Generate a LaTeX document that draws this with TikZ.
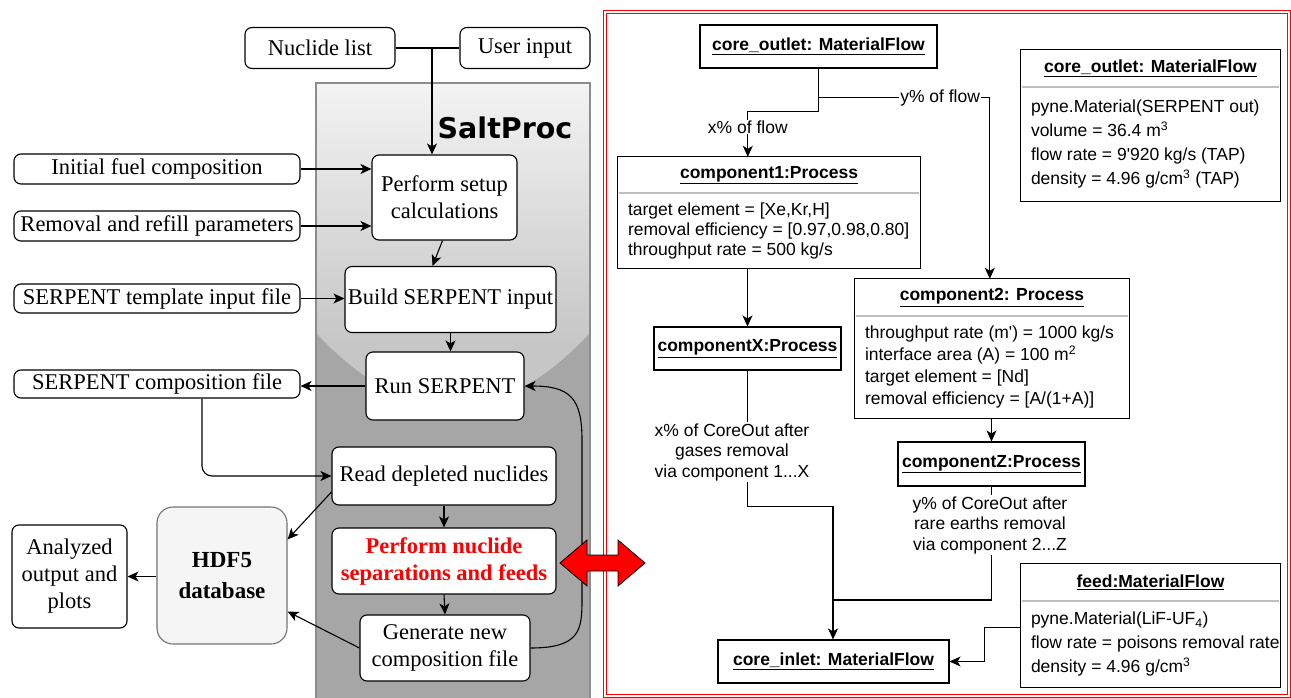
\documentclass[tikz,border=0pt]{standalone}
\usepackage{fontspec}
\setmainfont{Liberation Serif}
\newfontfamily\umlfont{Liberation Sans}
\newfontfamily\saltfont{DejaVu Sans}
\usetikzlibrary{arrows.meta}

\definecolor{paneltop}{RGB}{243,243,243}
\definecolor{panelmid}{RGB}{198,198,198}
\definecolor{paneldark}{RGB}{166,166,166}
\definecolor{panelline}{RGB}{140,140,140}
\definecolor{hdfgray}{RGB}{245,245,245}

\begin{document}
\begin{tikzpicture}[
    x=1pt, y=-1pt,
    >={Stealth[length=11pt, width=10pt, inset=3pt]},
    conn/.style={line width=1.1pt},
    inbox/.style={draw, line width=1.1pt, rounded corners=7pt, fill=white, align=center, inner sep=1pt, font=\fontsize{22.5}{27}\selectfont},
    dbbox/.style={inbox, draw=black!55, fill=hdfgray, rounded corners=16pt, font=\bfseries\fontsize{23}{31}\selectfont},
    umlhead/.style={inner sep=1pt, font=\umlfont\bfseries\fontsize{17.5}{21}\selectfont},
    umlbox/.style={umlhead, draw, line width=1.1pt, fill=white},
    umlbody/.style={anchor=north west, align=left, inner xsep=10pt, inner ysep=0pt, font=\umlfont\fontsize{17.5}{22}\selectfont},
    umlline/.style={draw, line width=1.1pt},
    sepline/.style={draw=black!25, line width=1.6pt},
    flowlbl/.style={fill=white, inner sep=1pt, align=center, font=\umlfont\fontsize{17.5}{20.5}\selectfont}
]
    \useasboundingbox (0,0) rectangle (1291,698);
    \clip (0,0) rectangle (1291,698);

    % SaltProc panel
    \shade[top color=paneltop, bottom color=panelmid] (316,83) rectangle (590,345);
    \fill[panelmid] (316,344) rectangle (590,420);
    \fill[paneldark] (316,333) .. controls (407,431) and (499,431) .. (590,333) -- (590,710) -- (316,710) -- cycle;
    \draw[panelline, line width=2pt] (316,83) rectangle (590,710);
    \node[font=\saltfont\bfseries\fontsize{28.5}{30}\selectfont] (saltproc) at (505,128) {SaltProc};

    % process frame
    \draw[red, double=white, line width=0.8pt, double distance=1.8pt] (605,12) rectangle (1289,696);

    % inputs
    \node[inbox, minimum width=150, minimum height=41] (nuclides) at (320,48) {Nuclide list};
    \node[inbox, minimum width=130, minimum height=41] (userinput) at (525,48) {User input};
    \node[inbox, minimum width=286, minimum height=30] (initfuel) at (157,169) {Initial fuel composition};
    \node[inbox, minimum width=286, minimum height=30] (refill) at (157,226) {Removal and refill parameters};
    \node[inbox, minimum width=286, minimum height=29] (template) at (157,298.5) {SERPENT template input file};
    \node[inbox, minimum width=286, minimum height=28] (compfile) at (157,384) {SERPENT composition file};

    % steps
    \node[inbox, minimum width=145, minimum height=85] (setup) at (444.5,197.5) {Perform setup\\calculations};
    \node[inbox, minimum width=211, minimum height=66] (build) at (450.5,299.5) {Build SERPENT input};
    \node[inbox, minimum width=158, minimum height=68] (run) at (445,386) {Run SERPENT};
    \node[inbox, minimum width=224, minimum height=58] (read) at (444,476) {Read depleted nuclides};
    \node[inbox, minimum width=224, minimum height=66, text=red, font=\bfseries\fontsize{22.5}{27}\selectfont] (separate) at (444,561) {Perform nuclide\\separations and feeds};
    \node[inbox, minimum width=170, minimum height=66] (generate) at (445,648) {Generate new\\composition file};

    % outputs
    \node[dbbox, minimum width=130, minimum height=137] (hdf) at (222,575.5) {HDF5\\database};
    \node[inbox, minimum width=115, minimum height=103] (analyzed) at (69.5,576.5) {Analyzed\\output and\\plots};

    \coordinate (junc) at (432,48);
    \draw[conn] (nuclides.east) -- (userinput.west);
    \draw[conn, ->] (junc) -- (junc |- setup.north);
    \draw[conn, ->] (initfuel.east) -- (initfuel.east -| setup.west);
    \draw[conn, ->] (refill.east) -- (refill.east -| setup.west);
    \draw[conn, ->] ([xshift=-2pt]setup.south) -- ([xshift=-18pt]build.north);
    \draw[conn, ->] (template.east) -- (template.east -| build.west);
    \draw[conn, ->] (build.south) -- (build.south |- run.north);
    \draw[conn, ->] (run.west) -- (run.west -| compfile.east);
    \draw[conn, ->, rounded corners=10pt] ([xshift=45pt]compfile.south) |- (read.west);
    \draw[conn, ->] (read.south) -- (separate.north);
    \draw[conn, ->] (separate.south) -- (generate.north);
    \draw[conn, ->] ([yshift=-16pt]read.west) -- ([yshift=-33pt]hdf.north east);
    \draw[conn, ->] (generate.west) -- ([yshift=-36pt]hdf.east);
    \draw[conn, ->] (analyzed.east -| hdf.west) -- (analyzed.east);
    \draw[conn, ->] (generate.east) .. controls (580,648) and (582,630) .. (582,600) -- (582,440) .. controls (582,398) and (570,386) .. (run.east);

    % link to the process model
    \draw[fill=red, line width=0.8pt] (560,563) -- (587,540) -- (587,555) -- (618,555) -- (618,540) -- (645,563) -- (618,586) -- (618,571) -- (587,571) -- (587,586) -- cycle;

    % process model
    \node[umlbox, minimum width=237, minimum height=43] (outlet) at (818.5,46.5) {\underline{core\_outlet: MaterialFlow}};
    \node[umlhead, minimum width=302, minimum height=36] (proc1) at (769,175) {\underline{component1:Process}};
    \node[umlbody, minimum height=75, font=\umlfont\fontsize{17.5}{20}\selectfont] (proc1-b) at (proc1.south west) {target element = [Xe,Kr,H]\\removal efficiency = [0.97,0.98,0.80]\\throughput rate = 500 kg/s};
    \node[umlhead, minimum width=259, minimum height=37] (state) at (1150.5,68.5) {\underline{core\_outlet: MaterialFlow}};
    \node[umlbody, minimum height=114, font=\umlfont\fontsize{17.5}{24}\selectfont] (state-b) at (state.south west) {pyne.Material(SERPENT out)\\volume = 36.4 m\textsuperscript{3}\\flow rate = 9\textquotesingle920 kg/s (TAP)\\density = 4.96 g/cm\textsuperscript{3} (TAP)};
    \node[umlhead, minimum width=274, minimum height=37] (proc2) at (992,297.5) {\underline{component2: Process}};
    \node[umlbody, minimum height=102] (proc2-b) at (proc2.south west) {throughput rate (m\textquotesingle) = 1000 kg/s\\interface area (A) = 100 m\textsuperscript{2}\\target element = [Nd]\\removal efficiency = [A/(1+A)]};
    \node[umlbox, minimum width=187, minimum height=43] (procX) at (747.5,348.5) {\underline{componentX:Process}};
    \node[umlbox, minimum width=187, minimum height=44] (procZ) at (991.5,464) {\underline{componentZ:Process}};
    \node[umlbox, minimum width=231, minimum height=43] (inlet) at (833.5,661.5) {\underline{core\_inlet: MaterialFlow}};
    \node[umlhead, minimum width=259, minimum height=37] (feed) at (1150.5,582.5) {\underline{feed:MaterialFlow}};
    \node[umlbody, minimum height=86, font=\umlfont\fontsize{17.5}{24}\selectfont] (feed-b) at (feed.south west) {pyne.Material(LiF-UF\textsubscript{4})\\flow rate = poisons removal rate\\density = 4.96 g/cm\textsuperscript{3}};

    \foreach \obj in {proc1, state, proc2, feed} {
        \draw[umlline] (\obj.north west) rectangle (\obj.east |- \obj-b.south);
        \draw[sepline] ([xshift=1pt]\obj.south west) -- ([xshift=-1pt]\obj.south east);
    }

    \coordinate (merge) at (833,600);
    \draw[conn, ->] (outlet.south) -- ++(0,43) -| node[flowlbl, pos=0.67] {x\% of flow} ([xshift=130pt]proc1.north west);
    \draw[conn, ->] (outlet.south) -- ++(0,29) -| node[flowlbl, pos=0.355] {y\% of flow} ([xshift=135pt]proc2.north west);
    \draw[conn, ->] (procX.north |- proc1-b.south) -- (procX.north);
    \draw[conn, ->] (procZ.north |- proc2-b.south) -- (procZ.north);
    \draw[conn, ->] (procX.south) -- ++(0,136) -| (merge) -- (merge |- inlet.north);
    \draw[conn] (procZ.south) |- (merge);
    \draw[conn, ->] ([yshift=-26pt]feed-b.north west) -- ++(-36,0) |- (inlet.east);
    \node[flowlbl] (xlabel) at (732,452) {x\% of CoreOut after\\gases removal\\via component 1...X};
    \node[flowlbl] (ylabel) at (990,525) {y\% of CoreOut after\\rare earths removal\\via component 2...Z};
\end{tikzpicture}
\end{document}
